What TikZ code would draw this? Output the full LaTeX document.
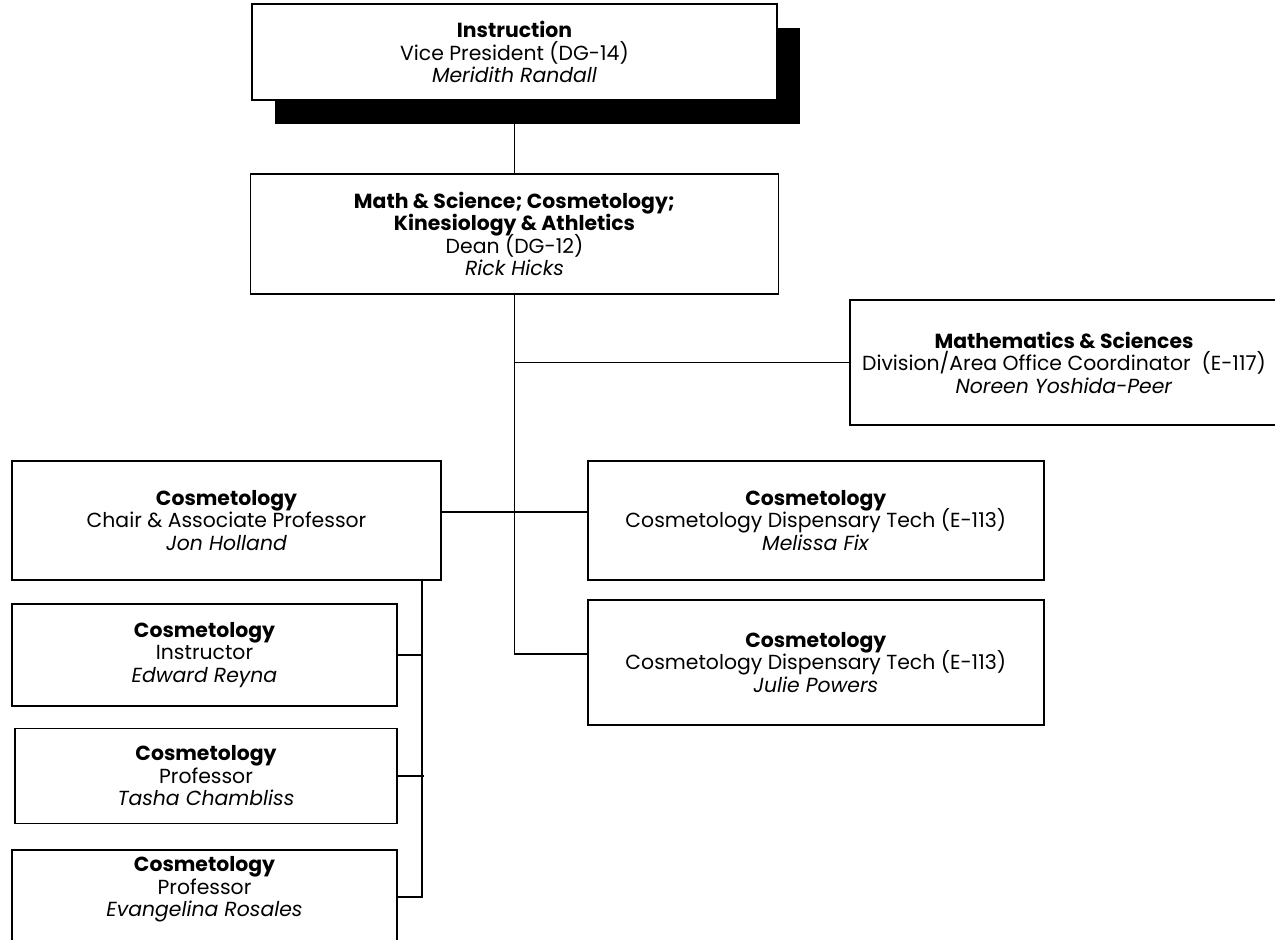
\documentclass[tikz,border=0pt]{standalone}
\usepackage{fontspec}
\setmainfont{Poppins}
\usetikzlibrary{positioning, shadows}
\newcommand\boxfont{\fontsize{11.6}{12.8}\selectfont\lineskiplimit=-6pt\relax}

\begin{document}
\begin{tikzpicture}[
  node distance=0.4cm and 0.4cm,
  ob/.style={rectangle, draw=black, fill=white, line width=1pt,
             inner sep=2pt, align=center, font=\boxfont},
  vpb/.style={ob, drop shadow={shadow xshift=0.46cm, shadow yshift=-0.48cm,
             fill=black, opacity=1}},
  conn/.style={line width=1.1pt, color=black}
]
\useasboundingbox (0,0) rectangle (25.5,-18.78);
% Vice president and dean
\node[vpb, minimum width=10.5cm, minimum height=1.92cm] (vp) at (10.29,-1.04)
  {\textbf{Instruction}\\Vice President (DG-14)\\\textit{Meridith Randall}};
\node[ob, minimum width=10.56cm, minimum height=2.4cm, below=1.44cm of vp] (dean)
  {\textbf{Math \& Science; Cosmetology;}\\\textbf{Kinesiology \& Athletics}\\Dean (DG-12)\\\textit{Rick Hicks}};
% Staff on the right
\node[ob, minimum width=8.56cm, minimum height=2.5cm] (math) at (21.28,-7.25)
  {\textbf{Mathematics \& Sciences}\\Division/Area Office Coordinator\ \ (E-117)\\\textit{Noreen Yoshida-Peer}};
% Chair and dispensary techs
\node[ob, minimum width=8.58cm, minimum height=2.38cm] (chair) at (4.53,-10.41)
  {\textbf{Cosmetology}\\Chair \& Associate Professor\\\textit{Jon Holland}};
\node[ob, minimum width=9.12cm, minimum height=2.38cm, right=2.9cm of chair] (fix)
  {\textbf{Cosmetology}\\Cosmetology Dispensary Tech (E-113)\\\textit{Melissa Fix}};
\node[ob, minimum width=9.12cm, minimum height=2.5cm, below=0.36cm of fix] (powers)
  {\textbf{Cosmetology}\\Cosmetology Dispensary Tech (E-113)\\\textit{Julie Powers}};
% Faculty under the chair
\node[ob, minimum width=7.7cm, minimum height=2.04cm,
      below=0.44cm of chair.south west, anchor=north west] (reyna)
  {\textbf{Cosmetology}\\Instructor\\\textit{Edward Reyna}};
\node[ob, minimum width=7.64cm, minimum height=1.9cm,
      below=0.42cm of reyna.south west, anchor=north west, xshift=0.06cm] (chambliss)
  {\textbf{Cosmetology}\\Professor\\\textit{Tasha Chambliss}};
\node[ob, minimum width=7.7cm, minimum height=2.5cm,
      below=0.5cm of chambliss.south west, anchor=north west, xshift=-0.06cm] (rosales)
  {\textbf{Cosmetology}\\Professor\\\textit{Evangelina Rosales}\\[0.6cm]\mbox{}};

% Lines
\draw[conn] (vp.south) -- (dean.north);
\draw[conn] (dean.south) |- ([yshift=0.16cm]powers.west);
\draw[conn] (math.west) -- (math.west -| dean.south);
\draw[conn] ([yshift=0.17cm]chair.east) -- ([yshift=0.17cm]chair.east -| fix.west);
\coordinate (cs) at ([xshift=-0.4cm]chair.south east);
\draw[conn] (cs) |- ([yshift=0.31cm]rosales.east);
\draw[conn] (reyna.east) -- (reyna.east -| cs);
\draw[conn] (chambliss.east) -- ([xshift=0.04cm]chambliss.east -| cs);
\end{tikzpicture}
\end{document}
